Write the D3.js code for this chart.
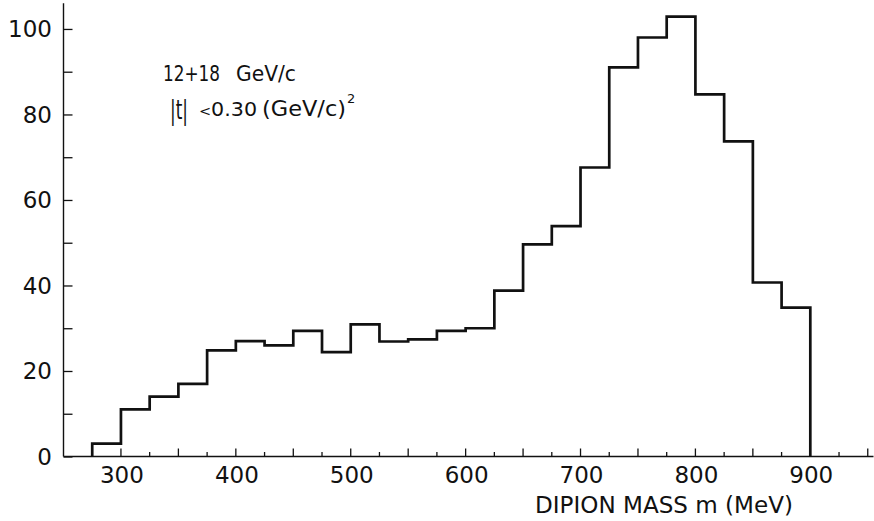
<!DOCTYPE html>
<html>
<head>
<meta charset="utf-8">
<script src="https://cdn.jsdelivr.net/npm/d3@7"></script>
<style>
  body { margin: 0; background: #fff; }
  text { font-family: "DejaVu Sans", sans-serif; fill: #111; }
</style>
</head>
<body>
<div id="vis"></div>
<script>
// dipion mass histogram, 25 MeV bins starting at 275 MeV
var binStart = 275;
var binWidth = 25;
var counts = [3, 11, 14, 17, 24.8, 27, 26, 29.4, 24.4, 30.9, 26.9, 27.4, 29.4, 30,
              38.8, 49.6, 53.9, 67.6, 91, 98, 102.9, 84.7, 73.7, 40.7, 34.8];
var xTickLabels = [300, 400, 500, 600, 700, 800, 900];
var yTickLabels = [0, 20, 40, 60, 80, 100];
var xTitle = "DIPION MASS m (MeV)";

var width = 874, height = 521;

var x = d3.scaleLinear().domain([250, 955]).range([63.5, 873.5]);
var y = d3.scaleLinear().domain([0, 106]).range([456.5, 3.3]);

var svg = d3.select("#vis").append("svg")
  .attr("width", width)
  .attr("height", height);

// y axis: ticks point inward
var yAxis = d3.axisRight(y)
  .tickValues(d3.range(0, 101, 10))
  .tickSize(9)
  .tickFormat("");
var gy = svg.append("g")
  .attr("transform", "translate(" + x(250) + ",0)")
  .call(yAxis);
gy.select(".domain").attr("d", "M0," + y(106) + "V" + y(0))
  .attr("stroke", "#111").attr("stroke-width", 1.4);
gy.selectAll(".tick line").attr("stroke", "#111").attr("stroke-width", 1.3);

svg.selectAll(".ylab")
  .data(yTickLabels)
  .enter().append("text")
  .attr("class", "ylab")
  .attr("x", 52)
  .attr("y", function(d) { return y(d); })
  .attr("dy", "0.36em")
  .attr("text-anchor", "end")
  .style("font-size", "23px")
  .text(function(d) { return d; });

// x axis: ticks point up, longer every 50 MeV
var xTicks = d3.range(275, 951, 25);
var gx = svg.append("g").attr("transform", "translate(0," + y(0) + ")");
gx.append("path")
  .attr("d", "M" + x(250) + ",0H" + x(955))
  .attr("stroke", "#111").attr("stroke-width", 1.5).attr("fill", "none");
gx.selectAll("line")
  .data(xTicks)
  .enter().append("line")
  .attr("x1", function(d) { return x(d); })
  .attr("x2", function(d) { return x(d); })
  .attr("y1", 0)
  .attr("y2", function(d) { return d % 50 === 0 ? -8 : -4.5; })
  .attr("stroke", "#111").attr("stroke-width", 1.3);

svg.selectAll(".xlab")
  .data(xTickLabels)
  .enter().append("text")
  .attr("class", "xlab")
  .attr("x", function(d) { return x(d) + 1; })
  .attr("y", y(0) + 26.5)
  .attr("text-anchor", "middle")
  .style("font-size", "23px")
  .text(function(d) { return d; });

svg.append("text")
  .attr("x", 535)
  .attr("y", 513)
  .attr("textLength", 258)
  .attr("lengthAdjust", "spacingAndGlyphs")
  .style("font-size", "23px")
  .text(xTitle);

// histogram outline
var pts = [[binStart, 0]];
counts.forEach(function(c, i) { pts.push([binStart + i * binWidth, c]); });
var binEnd = binStart + counts.length * binWidth;
pts.push([binEnd, counts[counts.length - 1]]);
pts.push([binEnd, 0]);

var line = d3.line()
  .x(function(d) { return x(d[0]); })
  .y(function(d) { return y(d[1]); })
  .curve(d3.curveStepAfter);

svg.append("path")
  .datum(pts)
  .attr("d", line)
  .attr("fill", "none")
  .attr("stroke", "#111")
  .attr("stroke-width", 2.7)
  .attr("stroke-linejoin", "miter");

// annotation
var note = svg.append("g");
function piece(txt, px, py, size, len) {
  var t = note.append("text").attr("x", px).attr("y", py)
    .style("font-size", size + "px").text(txt);
  if (len) t.attr("textLength", len).attr("lengthAdjust", "spacingAndGlyphs");
  return t;
}
piece("12+18", 163, 81, 21, 57);
piece("GeV/c", 236, 81, 21, 60);
piece("|t|", 170, 119, 26, 18);
var cut = note.append("text").attr("x", 199).attr("y", 115.5)
  .attr("textLength", 58).attr("lengthAdjust", "spacingAndGlyphs")
  .style("font-size", "20px");
cut.append("tspan").style("font-size", "14px").text("<");
cut.append("tspan").text("0.30");
piece("(GeV/c)", 262, 116, 21, 84);
piece("2", 347, 103, 13);
</script>
</body>
</html>
